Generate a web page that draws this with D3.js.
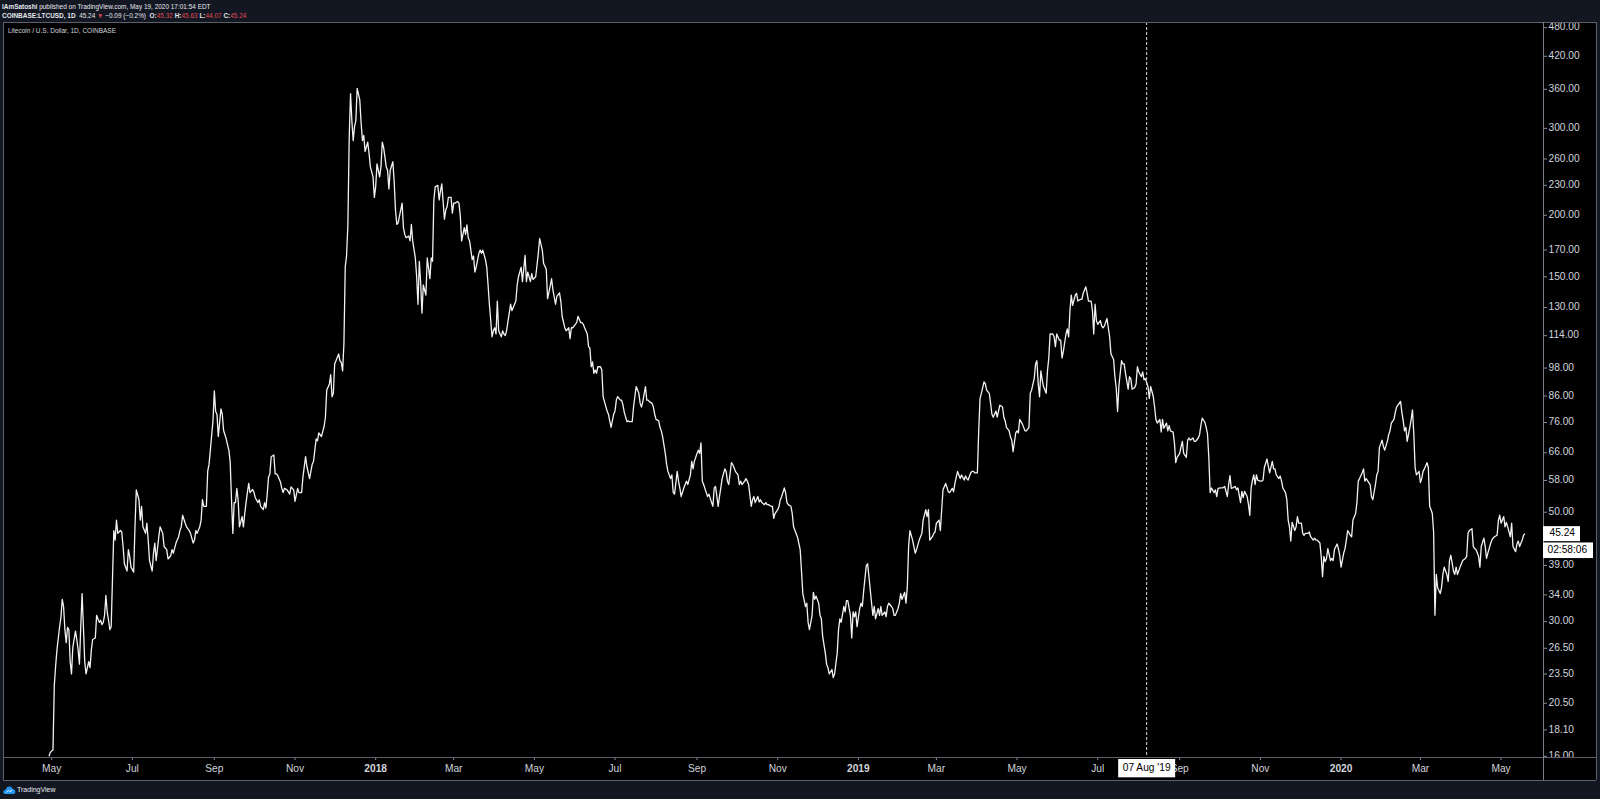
<!DOCTYPE html>
<html><head><meta charset="utf-8">
<script src="https://cdn.jsdelivr.net/npm/d3@7"></script>
<style>
html,body{margin:0;padding:0;background:#131722;overflow:hidden;}
svg{display:block;}
</style></head><body>
<script>
// ---------- DATA (daily closes; day = days since startDate) ----------
const startDate = "2017-05-01";
const closes2017 = [
[-2,16.0],[-1,16.3],[1,16.5],[2,22.3],[3,24.4],[4,26.3],[6,29.3],[7,30.6],[8,33.3],[9,32.2],
[10,28.9],[11,27.2],[12,29.2],[13,28.9],[14,24.9],[15,23.5],[16,26.6],[18,28.7],[19,27.6],[20,26.3],
[21,24.6],[22,29.3],[23,34.2],[24,29.3],[25,24.9],[26,23.5],[28,24.9],[29,24.2],[30,26.3],[31,27.6],
[33,27.8],[34,30.9],[36,29.9],[37,30.2],[38,29.6],[39,29.9],[40,30.9],[41,33.9],[42,31.4],[43,30.2],
[44,28.9],[45,29.3],[47,45.9],[48,43.9],[49,48.2],[50,45.3],[52,45.9],[53,45.6],[54,42.6],[55,39.3],
[57,38.0],[58,42.0],[59,40.7],[60,38.7],[62,37.8],[63,46.7],[64,55.5],[66,53.0],[67,48.2],[68,51.4],
[69,46.7],[71,45.3],[72,47.5],[73,43.9],[74,39.9],[76,38.0],[77,41.3],[78,43.3],[79,39.9],[81,44.6],
[82,46.7],[84,45.3],[85,42.6],[87,42.0],[88,40.2],[90,40.8],[91,42.0],[92,41.3],[94,43.3],[96,44.6],
[97,45.9],[98,46.7],[99,49.3],[101,47.5],[102,46.7],[104,45.9],[105,45.3],[107,43.3],[108,43.9],[109,45.9],
[110,45.3],[112,46.7],[113,48.2],[114,53.0],[115,51.4],[117,51.4],[118,60.6],[119,62.5],[120,66.8],[122,76.8],
[123,88.1],[124,80.0],[125,79.0],[126,71.2],[128,81.0],[129,79.0],[130,73.2],[132,70.4],[133,68.5],[134,66.8],
[135,63.2],[136,53.0],[137,45.3],[138,52.3],[139,52.3],[140,55.9],[141,53.0],[142,46.7],[144,49.0],[145,46.7],
[146,49.7],[147,52.3],[148,54.8],[149,57.2],[150,54.8],[152,55.6],[153,54.8],[154,53.5],[156,52.3],[157,53.0],
[158,51.4],[160,50.6],[161,52.3],[162,51.0],[163,54.4],[164,58.9],[165,59.8],[166,64.8],[168,65.3],[169,59.8],
[170,59.8],[171,59.3],[173,57.6],[174,55.9],[175,54.8],[176,55.9],[178,55.5],[179,55.0],[180,54.4],[181,56.3],
[183,55.5],[184,52.6],[186,55.9],[187,54.8],[189,54.8],[190,58.9],[192,64.8],[193,61.9],[195,58.5],[197,62.5],
[198,63.4],[200,70.4],[201,69.8],[202,72.4],[204,71.2],[205,72.9],[206,74.6],[207,77.9],[208,88.4],[210,91.0],
[211,95.0],[212,85.7],[213,87.1],[214,99.9],[215,101.4],[217,104.7],[218,101.4],[219,100.6],[220,96.7],[221,109.9],
[222,157.4],[223,165.5],[224,191.7],[225,287.9],[226,352.7],[227,310.6],[228,283.4],[229,302.4],[230,310.6],[231,361.6],
[233,342.3],[234,307.5],[235,283.4],[236,290.2],[237,269.3],[239,281.2],[240,267.2],[241,250.6],[243,239.2],[244,217.4]
];
const closes2018 = [
[245,228.3],[246,254.3],[248,239.2],[249,250.6],[250,281.2],[251,274.6],[253,250.6],[254,246.7],[255,226.0],[256,246.7],
[258,256.7],[259,233.9],[260,204.9],[261,191.6],[262,193.1],[263,199.2],[265,211.6],[266,188.7],[267,182.9],[268,180.0],
[270,181.4],[271,177.4],[272,191.6],[273,177.4],[275,163.8],[276,150.1],[277,132.0],[278,161.3],[279,146.1],[280,126.6],
[281,144.4],[283,137.8],[284,163.8],[285,156.3],[286,148.8],[287,163.8],[288,161.3],[289,214.8],[290,228.3],[292,229.9],
[293,214.8],[294,224.1],[295,231.4],[297,196.4],[298,204.9],[299,208.0],[300,217.4],[302,217.4],[303,202.0],[304,211.6],
[305,211.6],[307,213.2],[308,211.6],[309,199.2],[310,177.4],[312,188.7],[313,182.9],[314,191.2],[315,180.0],[316,177.4],
[318,162.6],[319,165.3],[320,153.4],[321,157.0],[323,167.2],[324,170.0],[325,167.4],[326,170.0],[328,162.6],[329,157.0],
[330,144.4],[331,132.0],[333,113.4],[334,116.6],[335,118.3],[336,114.9],[337,134.0],[338,116.6],[340,113.4],[341,116.6],
[342,114.9],[343,114.1],[344,116.6],[346,126.6],[347,132.0],[348,128.1],[350,132.0],[351,134.0],[352,144.4],[353,150.1],
[355,157.0],[356,146.7],[358,165.8],[359,146.7],[360,153.4],[362,146.7],[363,152.2],[364,148.2],[366,150.1],[368,167.4],
[369,179.4],[371,170.0],[372,159.6],[374,155.4],[375,135.5],[377,143.9],[378,148.8],[379,141.4],[381,132.0],[382,137.0],
[384,139.2],[385,134.0],[386,124.8],[388,118.3],[389,116.6],[391,118.3],[392,112.4],[393,118.3],[394,118.3],[396,120.2],
[397,121.2],[398,124.8],[400,121.2],[401,121.2],[402,120.2],[403,118.3],[405,114.9],[406,108.3],[407,107.5],[408,98.6],
[409,100.9],[410,95.6],[411,97.1],[412,95.6],[413,98.6],[415,98.6],[416,97.1],[417,85.8],[418,83.8],[420,80.2],
[421,79.0],[422,76.6],[423,74.3],[425,79.0],[426,80.2],[427,84.4],[428,85.8],[430,84.4],[431,84.4],[432,82.4],
[433,79.7],[435,76.3],[436,76.6],[437,76.3],[439,76.3],[440,81.7],[441,85.8],[442,89.9],[444,87.1],[445,83.1],
[446,81.7],[447,83.8],[449,89.9],[450,84.4],[451,84.4],[452,83.8],[454,83.1],[455,81.7],[456,79.0],[457,77.1],
[459,76.6],[460,74.3],[461,73.1],[462,71.1],[464,65.8],[465,62.5],[466,60.5],[468,58.5],[469,59.5],[470,54.8],
[471,54.4],[473,60.5],[474,57.8],[475,56.0],[476,53.8],[478,56.0],[479,56.9],[480,57.8],[481,56.9],[483,59.5],
[484,63.4],[485,61.2],[486,63.4],[488,65.8],[489,66.8],[490,65.8],[491,69.1],[492,57.8],[493,56.9],[495,54.8],
[496,53.8],[497,54.4],[499,52.3],[500,51.4],[501,56.0],[502,56.4],[504,51.4],[505,53.8],[506,56.0],[507,58.5],
[509,61.2],[510,60.5],[511,57.8],[512,56.9],[514,63.0],[515,62.5],[516,61.6],[517,60.5],[519,59.5],[520,56.9],
[521,57.8],[522,56.9],[524,57.8],[525,58.5],[526,57.8],[527,56.9],[529,51.4],[530,53.0],[531,53.8],[532,52.3],
[534,53.8],[535,52.5],[536,53.0],[537,52.3],[539,51.8],[540,52.3],[541,51.8],[542,51.8],[544,51.4],[545,51.4],
[546,48.6],[547,49.7],[549,50.6],[550,51.4],[551,53.0],[552,53.8],[554,56.0],[555,54.8],[556,52.3],[557,51.8],
[559,51.4],[560,49.7],[561,46.7],[564,44.5],[566,42.0],[567,38.0],[568,34.2],[570,32.2],[571,32.7],[572,29.9],
[573,28.9],[575,30.9],[576,34.4],[577,33.3],[578,33.8],[580,32.7],[581,30.9],[582,30.4],[583,28.0],[585,25.9],
[586,24.6],[587,24.2],[588,23.5],[590,24.0],[591,23.1],[592,23.5],[594,25.9],[595,28.9],[596,30.4],[597,29.9],
[599,32.2],[600,31.4],[601,33.1],[602,33.1],[604,30.9],[605,27.8],[606,31.4],[607,30.7],[608,31.4],[609,29.3]
];
const closes2019 = [
[611,31.9],[612,32.7],[613,32.2],[614,34.6],[616,39.0],[617,39.3],[618,37.0],[620,32.7],[621,30.9],[622,32.2],
[623,30.4],[625,31.9],[626,30.9],[627,32.2],[628,30.9],[630,31.4],[631,30.7],[632,32.2],[633,32.7],[635,32.2],
[636,31.9],[637,30.9],[638,30.9],[640,31.9],[641,32.7],[642,34.2],[643,33.3],[645,34.4],[646,32.7],[647,35.2],
[648,42.6],[649,45.9],[651,43.9],[652,42.6],[653,41.3],[654,42.0],[656,43.9],[657,44.6],[658,45.3],[659,48.2],
[661,50.6],[662,49.0],[663,50.6],[664,43.9],[666,44.6],[667,45.3],[668,45.6],[669,47.5],[671,48.2],[672,45.9],
[673,50.6],[674,55.5],[676,57.2],[677,56.2],[678,55.0],[679,54.8],[681,55.9],[682,55.0],[683,57.2],[685,60.5],
[686,59.5],[687,58.5],[688,59.5],[690,58.1],[691,59.2],[692,58.5],[693,58.1],[695,60.1],[696,60.5],[697,60.5],
[698,60.1],[700,60.1],[701,73.1],[702,85.0],[703,87.1],[705,91.9],[706,91.0],[707,88.4],[709,87.1],[710,83.1],
[711,79.0],[712,77.9],[714,80.2],[715,77.9],[716,80.2],[717,82.4],[719,81.7],[720,77.9],[721,76.6],[722,74.3],
[724,73.1],[725,71.1],[726,70.0],[727,66.3],[729,72.4],[730,73.1],[731,72.4],[732,77.1],[734,75.5],[735,74.3],
[736,73.1],[737,73.1],[739,74.3],[740,87.1],[741,88.4],[743,93.4],[744,99.9],[745,101.4],[746,91.0],[747,85.7],
[748,96.7],[749,92.8],[750,89.9],[752,87.1],[753,96.7],[754,102.7],[755,114.9],[757,114.9],[758,113.4],[759,108.3],
[760,114.9],[762,111.6],[763,111.6],[764,102.7],[765,105.9],[767,114.9],[768,117.6],[769,113.4],[770,128.1],[771,137.8],
[772,131.3],[774,137.8],[775,138.9],[776,134.0],[778,135.1],[779,135.1],[780,138.9],[781,141.0],[782,143.2],[783,138.9],
[784,134.0],[786,134.0],[787,128.1],[788,114.9],[789,132.0],[790,122.3],[791,120.2],[793,122.3],[794,119.2],[795,118.3],
[796,119.2],[798,123.5],[799,118.3],[800,113.4],[801,104.7],[803,102.0],[804,94.0],[805,89.3],[806,80.0],[807,90.0],
[809,101.4],[810,99.9],[811,99.9],[812,95.6],[814,88.8],[815,94.1],[816,93.3],[817,88.8],[819,89.5],[820,91.0],
[821,98.6],[822,96.3],[824,94.1],[825,96.3],[826,92.8],[827,93.3],[829,89.9],[830,85.0],[831,89.9],[833,85.8],
[834,81.7],[835,77.1],[836,75.8],[838,77.1],[839,72.7],[840,77.1],[841,74.0],[843,75.8],[844,73.1],[845,74.9],
[846,73.1],[848,72.7],[849,69.1],[850,63.0],[851,64.6],[853,65.8],[854,67.9],[855,69.6],[856,65.8],[858,64.6],
[859,70.0],[860,70.7],[861,70.0],[863,70.7],[864,69.6],[865,69.6],[867,70.7],[868,71.8],[869,74.9],[870,77.6],
[872,76.1],[873,74.3],[874,72.1],[875,64.6],[876,54.8],[877,56.0],[879,54.8],[880,55.5],[881,53.8],[882,55.9],
[884,56.0],[885,56.0],[886,56.1],[887,56.4],[889,53.8],[890,56.9],[891,59.3],[892,55.9],[893,56.0],[895,56.4],
[896,55.5],[897,56.0],[899,52.3],[900,55.1],[901,53.5],[902,55.1],[904,53.8],[905,51.8],[906,49.3],[907,56.0],
[908,58.1],[909,59.5],[910,56.9],[911,59.5],[912,58.1],[914,57.8],[915,57.8],[916,58.1],[917,61.6],[919,64.1],
[920,62.0],[921,60.1],[923,63.4],[924,61.2],[925,61.2],[926,59.5],[928,58.5],[929,59.2],[930,57.8],[931,56.0],
[933,54.8],[934,53.0],[935,48.2],[936,46.7],[937,43.7],[938,47.7],[940,45.9],[941,46.7],[942,49.0],[943,47.5],
[945,47.5],[946,45.3],[947,44.9],[948,45.3],[950,45.3],[951,45.6],[952,44.6],[954,43.9],[955,44.3],[956,43.9],
[957,43.9],[959,43.3],[960,40.7],[961,37.0],[962,40.7],[963,39.7],[964,40.3],[965,42.2],[967,39.9],[968,40.3],
[969,39.9],[970,42.0],[972,43.1],[973,42.2],[974,40.9]
];
const closes2020 = [
[975,38.7],[977,41.3],[978,42.2],[979,43.9],[980,45.9],[982,44.9],[983,44.6],[984,48.2],[986,49.7],[987,52.3],
[988,57.8],[989,58.5],[991,60.1],[992,61.2],[993,57.8],[994,58.5],[996,57.4],[997,56.9],[998,53.8],[999,53.0],
[1001,56.9],[1002,59.5],[1003,60.5],[1004,67.6],[1006,70.0],[1007,68.0],[1008,66.8],[1010,69.6],[1011,71.8],[1012,73.1],
[1013,75.8],[1015,77.1],[1016,79.7],[1017,81.7],[1018,82.4],[1020,83.9],[1021,79.7],[1022,76.6],[1023,73.1],[1024,74.3],
[1025,69.6],[1027,74.3],[1028,77.1],[1029,80.6],[1030,72.1],[1031,61.6],[1032,59.5],[1034,60.5],[1035,57.4],[1036,58.5],
[1037,60.5],[1038,61.2],[1040,63.0],[1041,61.6],[1042,51.4],[1043,50.6],[1044,49.7],[1045,45.5],[1046,30.9],[1047,37.4],
[1048,35.2],[1050,34.2],[1051,35.2],[1052,37.4],[1053,38.7],[1055,37.4],[1056,36.2],[1057,39.9],[1058,40.9],[1060,38.0],
[1061,37.4],[1062,38.7],[1063,37.4],[1065,38.7],[1066,39.3],[1067,39.9],[1069,40.3],[1070,40.7],[1071,45.3],[1072,45.9],
[1074,46.3],[1075,42.6],[1076,42.2],[1077,42.0],[1079,40.7],[1080,38.7],[1081,42.6],[1083,44.3],[1084,42.6],[1085,40.3],
[1086,41.3],[1088,43.1],[1089,43.9],[1090,44.3],[1091,44.6],[1093,44.9],[1094,48.2],[1095,49.3],[1096,47.5],[1098,49.0],
[1099,46.7],[1100,47.7],[1101,46.7],[1103,44.6],[1104,47.5],[1105,42.6],[1107,41.6],[1108,43.1],[1109,43.7],[1110,42.6],
[1112,43.9],[1113,44.9],[1114,45.24]
];
const yTickValues = [480,420,360,300,260,230,200,170,150,130,114,98,86,76,66,58,50,39,34,30,26.5,23.5,20.5,18.1,16];
const xTickDates = ["2017-05-01","2017-07-01","2017-09-01","2017-11-01","2018-01-01","2018-03-01","2018-05-01",
  "2018-07-01","2018-09-01","2018-11-01","2019-01-01","2019-03-01","2019-05-01","2019-07-01","2019-09-01",
  "2019-11-01","2020-01-01","2020-03-01","2020-05-01"];
const xTickLabels = ["May","Jul","Sep","Nov","2018","Mar","May","Jul","Sep","Nov","2019","Mar","May","Jul","Sep","Nov","2020","Mar","May"];
const viewRange = ["2017-03-25T04:48:00Z","2020-06-01T16:48:00Z"];
const priceRange = [15.95, 492.9];
const lastClose = 45.24;
const countdown = "02:58:06";
const crosshairDate = "2019-08-07";
const crosshairLabel = "07 Aug '19";
const headerLine1 = ["IAmSatoshi", " published on TradingView.com, May 19, 2020 17:01:54 EDT"];
const symbolInfo = {symbol:"COINBASE:LTCUSD, 1D", last:"45.24", change:"\u22120.09 (\u22120.2%)", o:"45.32", h:"45.63", l:"44.07", c:"45.24"};
const legendTitle = "Litecoin / U.S. Dollar, 1D, COINBASE";

// ---------- LAYOUT ----------
const W = 1600, H = 799;
const pane = {l:3, t:22, r:1543, b:757};
const axisBottom = 780, outerRight = 1596;
const FONT = "'Liberation Sans', Arial, sans-serif";
const txt = "#d1d4dc", border = "#5d606b", red = "#e04a52";

const MS = 864e5;
const t0 = Date.parse(startDate + "T00:00:00Z");
const series = [].concat(closes2017, closes2018, closes2019, closes2020)
  .map(([d, c]) => ({date: new Date(t0 + d * MS), close: c}));

const x = d3.scaleUtc().domain(viewRange.map(s => new Date(s))).range([pane.l, pane.r]);
const y = d3.scaleLog().domain(priceRange).range([pane.b, pane.t]);

const svg = d3.select("body").append("svg").attr("width", W).attr("height", H)
  .style("font-family", FONT);
svg.append("rect").attr("width", W).attr("height", H).attr("fill", "#131722");
svg.append("rect").attr("x", pane.l).attr("y", pane.t).attr("width", outerRight - pane.l)
  .attr("height", axisBottom - pane.t).attr("fill", "#000");

const defs = svg.append("defs");
defs.append("clipPath").attr("id", "paneClip").append("rect")
  .attr("x", pane.l).attr("y", pane.t).attr("width", pane.r - pane.l).attr("height", pane.b - pane.t);
defs.append("clipPath").attr("id", "yAxisClip").append("rect")
  .attr("x", pane.r).attr("y", pane.t).attr("width", outerRight - pane.r).attr("height", pane.b - pane.t);

// price line
const line = d3.line().x(d => x(d.date)).y(d => y(d.close)).curve(d3.curveLinear);
svg.append("g").attr("clip-path", "url(#paneClip)")
  .append("path").datum(series).attr("d", line)
  .attr("fill", "none").attr("stroke", "#f2f2f2").attr("stroke-width", 1.3)
  .attr("stroke-linejoin", "round");

// legend inside pane
svg.append("text").attr("x", pane.l + 5).attr("y", 31).attr("dominant-baseline", "middle")
  .attr("font-size", 6.5).attr("fill", txt).text(legendTitle);

// crosshair
const cx = x(new Date(crosshairDate + "T00:00:00Z"));
svg.append("line").attr("x1", cx).attr("x2", cx).attr("y1", pane.t).attr("y2", pane.b)
  .attr("stroke", "#d8d8d8").attr("stroke-width", 1).attr("stroke-dasharray", "3,2");

// right price axis
const yAxisG = svg.append("g").attr("clip-path", "url(#yAxisClip)");
const yt = yAxisG.selectAll("g.yt").data(yTickValues).join("g").attr("class", "yt")
  .attr("transform", d => `translate(0,${y(d)})`);
yt.append("line").attr("x1", pane.r).attr("x2", pane.r + 4).attr("stroke", "#8a8d96");
yt.append("text").attr("x", pane.r + 5.5).attr("dominant-baseline", "middle")
  .attr("font-size", 10.2).attr("fill", txt).text(d => d3.format(".2f")(d));

// bottom time axis
const xt = svg.append("g").selectAll("g.xt").data(xTickDates).join("g").attr("class", "xt")
  .attr("transform", d => `translate(${x(new Date(d + "T00:00:00Z"))},0)`);
xt.append("line").attr("y1", pane.b).attr("y2", pane.b + 3).attr("stroke", "#8a8d96");
xt.append("text").attr("y", 769).attr("text-anchor", "middle").attr("dominant-baseline", "middle")
  .attr("font-size", 10.2).attr("fill", txt)
  .attr("font-weight", (d, i) => /^\d{4}$/.test(xTickLabels[i]) ? "bold" : "normal")
  .text((d, i) => xTickLabels[i]);

// borders
const borders = svg.append("g").attr("stroke", border).attr("stroke-width", 1).attr("shape-rendering", "crispEdges");
borders.append("line").attr("x1", pane.l).attr("x2", outerRight).attr("y1", pane.t + 0.5).attr("y2", pane.t + 0.5);
borders.append("line").attr("x1", pane.l).attr("x2", outerRight).attr("y1", pane.b + 0.5).attr("y2", pane.b + 0.5);
borders.append("line").attr("x1", pane.l).attr("x2", outerRight).attr("y1", axisBottom + 0.5).attr("y2", axisBottom + 0.5);
borders.append("line").attr("x1", pane.l + 0.5).attr("x2", pane.l + 0.5).attr("y1", pane.t).attr("y2", axisBottom);
borders.append("line").attr("x1", pane.r + 0.5).attr("x2", pane.r + 0.5).attr("y1", pane.t).attr("y2", axisBottom).attr("stroke", "#7b7e88");
borders.append("line").attr("x1", outerRight + 0.5).attr("x2", outerRight + 0.5).attr("y1", pane.t).attr("y2", axisBottom);

// last price label + countdown
const py = y(lastClose);
svg.append("rect").attr("x", pane.r).attr("y", py - 7.5).attr("width", 37).attr("height", 15).attr("fill", "#ffffff");
svg.append("text").attr("x", pane.r + 6.5).attr("y", py).attr("dominant-baseline", "middle")
  .attr("font-size", 10.2).attr("fill", "#000").text(d3.format(".2f")(lastClose));
svg.append("rect").attr("x", pane.r).attr("y", py + 8.8).attr("width", 50).attr("height", 15.6).attr("fill", "#ffffff");
svg.append("text").attr("x", pane.r + 4.5).attr("y", py + 16.8).attr("dominant-baseline", "middle")
  .attr("font-size", 10.2).attr("fill", "#000").text(countdown);

// crosshair date label
svg.append("rect").attr("x", cx - 28.5).attr("y", pane.b + 2).attr("width", 57).attr("height", 18.3).attr("fill", "#ffffff");
svg.append("text").attr("x", cx).attr("y", 768.5).attr("text-anchor", "middle").attr("dominant-baseline", "middle")
  .attr("font-size", 10.2).attr("fill", "#000").text(crosshairLabel);

// header
const h1 = svg.append("text").attr("x", 2).attr("y", 7).attr("dominant-baseline", "middle")
  .attr("font-size", 6.45).attr("fill", "#e6e8ee");
h1.append("tspan").attr("font-weight", "bold").text(headerLine1[0]);
h1.append("tspan").text(headerLine1[1]);
const h2 = svg.append("text").attr("x", 2).attr("y", 15.5).attr("dominant-baseline", "middle")
  .attr("font-size", 6.45).attr("fill", "#e6e8ee");
h2.append("tspan").attr("font-weight", "bold").text(symbolInfo.symbol);
h2.append("tspan").text("\u00a0 " + symbolInfo.last + " ");
h2.append("tspan").attr("fill", red).text("\u25BC");
h2.append("tspan").text(" " + symbolInfo.change + "\u00a0 ");
[["O:", symbolInfo.o], ["H:", symbolInfo.h], ["L:", symbolInfo.l], ["C:", symbolInfo.c]].forEach(([k, v], i) => {
  h2.append("tspan").attr("font-weight", "bold").text((i ? " " : "") + k);
  h2.append("tspan").attr("fill", red).text(v);
});

// TradingView logo at bottom
const logo = svg.append("g").attr("transform", "translate(3,784)");
logo.append("path")
  .attr("d", "M2.5,10 C0.6,10 0,8.6 0.4,7.4 C0.8,6.2 1.8,5.7 2.8,5.8 C3.2,3.6 4.8,2.4 6.6,2.6 C8.3,2.8 9.5,4 9.8,5.4 C11.2,5.2 12.4,6.2 12.4,7.7 C12.4,9.1 11.4,10 10.2,10 Z")
  .attr("fill", "#2196f3");
logo.append("path").attr("d", "M3.2,8.6 L5.6,6.2 L7.2,7.8 L9.6,5.6").attr("fill", "none")
  .attr("stroke", "#ffffff").attr("stroke-width", 0.9);
svg.append("text").attr("x", 17).attr("y", 790.5).attr("dominant-baseline", "middle")
  .attr("font-size", 7).attr("fill", "#e6e8ee").text("TradingView");
</script>
</body></html>
